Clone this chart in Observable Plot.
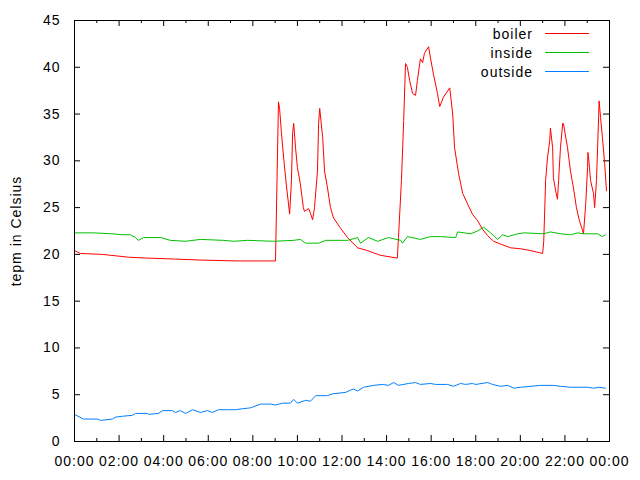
<!DOCTYPE html>
<html>
<head>
<meta charset="utf-8">
<script src="https://cdn.jsdelivr.net/npm/d3@7"></script>
<script src="https://cdn.jsdelivr.net/npm/@observablehq/plot@0.6"></script>
<style>
  html, body { margin: 0; padding: 0; background: #fff; }
  #wrap { position: relative; width: 640px; height: 480px; font-family: "Liberation Sans", Arial, sans-serif; }
  #legend { position: absolute; left: 440px; top: 24px; font-size: 14px; letter-spacing: 1px; color: #000; }
  .row { display: flex; align-items: center; justify-content: flex-end; height: 19px; }
  .row svg { margin-left: 12px; }
</style>
</head>
<body>
<div id="wrap"><div id="legend"></div></div>
<script>
const seriesNames = ["boiler", "inside", "outside"];
const seriesColors = ["#ff0000", "#00c000", "#0080ff"];
const yLabel = "tepm in Celsius";
const yTicks = [0, 5, 10, 15, 20, 25, 30, 35, 40, 45];

const boiler = [["00:00",20.4],["00:16",20.1],["01:15",20.0],["02:25",19.7],["03:17",19.6],["04:32",19.5],["05:34",19.4],["07:19",19.3],["08:26",19.3],["09:01",19.3],
["09:09",36.3],["09:12",35.6],["09:17",33.0],["09:23",30.3],["09:31",27.1],["09:36",25.4],["09:39",24.3],["09:44",27.9],["09:47",32.9],["09:50",34.0],
["09:55",31.4],["10:00",29.3],["10:08",27.5],["10:16",25.0],["10:19",24.6],["10:30",24.9],["10:35",24.4],["10:41",23.7],["10:46",25.0],["10:54",28.9],
["10:57",34.0],["11:00",35.6],["11:08",32.5],["11:13",28.9],["11:21",27.1],["11:29",25.0],["11:37",23.9],["11:56",22.8],["12:15",21.8],["12:42",20.7],
["13:09",20.4],["13:36",20.0],["13:44",19.9],["14:29",19.6],["14:32",21.8],["14:40",27.9],["14:46",34.3],["14:51",40.4],["14:56",40.0],["15:02",38.6],
["15:10",37.2],["15:18",37.0],["15:23",38.6],["15:31",40.9],["15:37",40.5],["15:42",41.5],["15:53",42.2],["15:58",41.0],["16:06",39.3],["16:17",37.2],
["16:23",35.8],["16:33",36.8],["16:50",37.8],["16:58",35.0],["17:03",31.4],["17:14",28.6],["17:25",26.5],["17:38",25.4],["17:51",24.3],["18:05",23.6],
["18:18",22.7],["18:32",22.0],["18:48",21.4],["19:07",21.1],["19:34",20.7],["20:01",20.6],["20:28",20.4],["21:00",20.1],["21:03",21.4],["21:05",23.9],
["21:08",27.9],["21:13",30.3],["21:19",32.1],["21:21",33.5],["21:27",31.4],["21:29",28.2],["21:35",26.8],["21:40",25.9],["21:43",27.9],["21:48",31.4],
["21:54",34.0],["21:56",34.0],["22:07",31.4],["22:15",28.9],["22:23",27.1],["22:31",25.0],["22:39",23.6],["22:48",22.5],["22:50",22.2],["22:56",25.4],
["23:01",29.3],["23:02",30.9],["23:04",30.2],["23:09",27.9],["23:17",26.5],["23:20",25.0],["23:25",27.9],["23:31",35.0],["23:32",36.4],["23:36",34.6],
["23:41",32.5],["23:47",29.7],["23:52",26.8]];

const inside = [["00:00",22.3],["00:51",22.3],["01:42",22.2],["02:09",22.1],["02:31",22.1],["02:44",21.8],["02:52",21.5],["03:06",21.8],["03:52",21.8],["04:18",21.5],
["04:59",21.4],["05:39",21.6],["06:41",21.5],["07:08",21.4],["07:46",21.5],["08:56",21.4],["09:50",21.5],["10:08",21.6],["10:22",21.2],["10:57",21.2],
["11:16",21.5],["12:15",21.5],["12:42",21.8],["12:50",21.2],["13:11",21.8],["13:36",21.4],["14:05",21.8],["14:38",21.5],["14:43",21.2],["14:56",21.9],
["15:31",21.6],["15:58",21.9],["16:25",21.9],["17:06",21.8],["17:11",22.4],["17:46",22.2],["18:05",22.5],["18:21",22.9],["18:40",22.3],["18:59",21.6],
["19:12",22.1],["19:26",21.9],["19:53",22.2],["20:09",22.3],["21:03",22.2],["21:21",22.4],["21:48",22.2],["22:15",22.1],["22:34",22.3],["22:50",22.2],
["23:28",22.2],["23:41",21.9],["23:49",22.1]];

const outside = [["00:00",2.9],["00:24",2.4],["01:02",2.4],["01:10",2.25],["01:42",2.4],["01:50",2.6],["02:09",2.7],["02:36",2.8],["02:44",3.0],["03:17",3.0],
["03:19",2.9],["03:46",3.0],["03:57",3.3],["04:24",3.3],["04:32",3.1],["04:45",3.3],["04:59",3.0],["05:18",3.4],["05:39",3.1],["05:58",3.3],
["06:11",3.1],["06:28",3.4],["06:52",3.4],["07:13",3.4],["07:32",3.5],["07:54",3.6],["08:21",4.0],["08:48",4.0],["09:01",3.9],["09:20",4.1],
["09:41",4.1],["09:50",4.5],["10:00",4.1],["10:22",4.4],["10:35",4.3],["10:49",4.9],["11:21",4.9],["11:35",5.1],["12:10",5.25],["12:23",5.5],
["12:31",5.6],["12:42",5.4],["12:58",5.8],["13:25",6.0],["13:49",6.1],["14:05",6.0],["14:19",6.3],["14:32",6.0],["14:59",6.2],["15:18",6.3],
["15:31",6.1],["15:58",6.2],["16:12",6.1],["16:44",6.1],["17:00",5.9],["17:19",6.2],["17:33",6.1],["17:51",6.2],["18:00",6.1],["18:32",6.3],
["18:45",6.1],["19:07",5.9],["19:26",6.0],["19:42",5.7],["20:01",5.8],["20:54",6.0],["21:29",6.0],["21:48",5.9],["22:15",5.8],["23:01",5.8],
["23:17",5.7],["23:31",5.8],["23:49",5.7]];

const day0 = Date.UTC(2013, 0, 1);
const toDate = s => { const [h, m] = s.split(":").map(Number); return new Date(day0 + (h * 60 + m) * 60000); };
const rows = [];
[boiler, inside, outside].forEach((arr, i) => arr.forEach(([t, v]) => rows.push({series: seriesNames[i], time: toDate(t), value: v})));

const xDomain = [new Date(day0), new Date(day0 + 24 * 3600000)];
const hourTicks = d3.utcHour.range(xDomain[0], new Date(+xDomain[1] + 1));
const majorTicks = hourTicks.filter((d, i) => i % 2 === 0);
const minorTicks = hourTicks.filter((d, i) => i % 2 === 1);

const W = 640, H = 480, mL = 74, mR = 31, mT = 20, mB = 39;
const pw = W - mL - mR, ph = H - mT - mB;

const chart = Plot.plot({
  width: W, height: H,
  marginLeft: mL, marginRight: mR, marginTop: mT, marginBottom: mB,
  style: {fontFamily: "'Liberation Sans', Arial, sans-serif", fontSize: "14px", letterSpacing: "1px", color: "#000", background: "#fff"},
  x: {type: "utc", domain: xDomain},
  y: {domain: [0, 45]},
  color: {domain: seriesNames, range: seriesColors},
  marks: [
    Plot.axisX({ticks: majorTicks, tickSize: 0, tickPadding: 15, tickFormat: d3.utcFormat("%H:%M"), label: null}),
    Plot.axisY({ticks: yTicks, tickSize: 0, tickPadding: 14, label: null}),
    Plot.tickX(majorTicks, {x: d => d, insetTop: ph - 6, stroke: "#000"}),
    Plot.tickX(majorTicks, {x: d => d, insetBottom: ph - 6, stroke: "#000"}),
    Plot.tickX(minorTicks, {x: d => d, insetTop: ph - 3, stroke: "#000"}),
    Plot.tickX(minorTicks, {x: d => d, insetBottom: ph - 3, stroke: "#000"}),
    Plot.tickY(yTicks, {y: d => d, insetRight: pw - 6, stroke: "#000"}),
    Plot.tickY(yTicks, {y: d => d, insetLeft: pw - 6, stroke: "#000"}),
    Plot.lineY(rows, {x: "time", y: "value", z: "series", stroke: "series", strokeWidth: 1}),
    Plot.frame({stroke: "#000", strokeWidth: 1}),
    Plot.text([yLabel], {text: d => d, frameAnchor: "left", rotate: -90, dx: -58, textAnchor: "middle", lineAnchor: "middle", fill: "#000"})
  ]
});
document.getElementById("wrap").appendChild(chart);

const legend = document.getElementById("legend");
seriesNames.forEach((name, i) => {
  const row = document.createElement("div");
  row.className = "row";
  const label = document.createElement("span");
  label.textContent = name;
  row.appendChild(label);
  const sw = d3.create("svg").attr("width", 44).attr("height", 3);
  sw.append("line").attr("x1", 0).attr("x2", 44).attr("y1", 1.5).attr("y2", 1.5).attr("stroke", seriesColors[i]).attr("stroke-width", 1);
  row.appendChild(sw.node());
  legend.appendChild(row);
});
legend.style.position = "absolute";
legend.style.left = "auto";
legend.style.right = (640 - 589) + "px";
</script>
</body>
</html>
